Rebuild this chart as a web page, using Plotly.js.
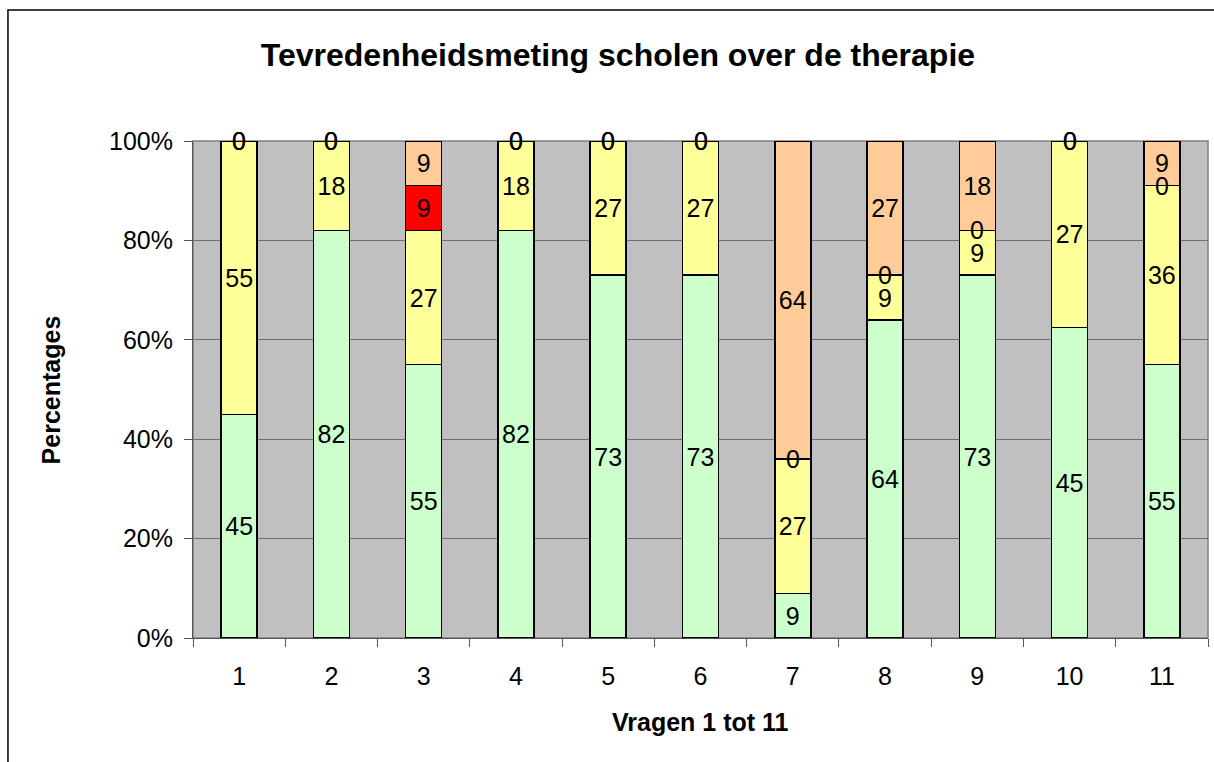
<!DOCTYPE html>
<html>
<head>
<meta charset="utf-8">
<script src="https://cdn.plot.ly/plotly-3.0.1.min.js"></script>
<style>
  body { margin: 0; background: #fff; }
  #chart { width: 1214px; height: 762px; }
</style>
</head>
<body>
<div id="chart"></div>
<script>
// Tevredenheid per vraag (aantallen in %, Excel 100%-gestapeld)
const vragen = ['1', '2', '3', '4', '5', '6', '7', '8', '9', '10', '11'];
const groen  = [45, 82, 55, 82, 73, 73,  9, 64, 73, 45, 55];
const geel   = [55, 18, 27, 18, 27, 27, 27,  9,  9, 27, 36];
const rood   = [ 0,  0,  9,  0,  0,  0,  0,  0,  0,  0,  0];
const oranje = [ 0,  0,  9,  0,  0,  0, 64, 27, 18,  0,  9];

const FONT = 'Liberation Sans, Arial, sans-serif';
const series = [
  { naam: 'groen',  y: groen,  kleur: '#CCFFCC' },
  { naam: 'geel',   y: geel,   kleur: '#FFFF99' },
  { naam: 'rood',   y: rood,   kleur: '#FF0000' },
  { naam: 'oranje', y: oranje, kleur: '#FFCC99' },
];

const traces = series.map(s => ({
  type: 'bar',
  name: s.naam,
  x: vragen,
  y: s.y,
  text: s.y.map(v => v === 0 ? '' : String(v)),
  texttemplate: '%{text}',
  textposition: 'inside',
  insidetextanchor: 'middle',
  textangle: 0,
  constraintext: 'none',
  textfont: { family: FONT, size: 25, color: '#000' },
  marker: { color: s.kleur, line: { color: '#000', width: 1.5 } },
  hoverinfo: 'skip',
}));

// Excel toont ook de 0-labels, op de grens van het (lege) segment
const totalen = vragen.map((_, i) => series.reduce((a, s) => a + s.y[i], 0));
const nulLabels = [];
series.forEach((s, k) => {
  s.y.forEach((v, i) => {
    if (v !== 0) return;
    let cum = 0;
    for (let j = 0; j <= k; j++) cum += series[j].y[i];
    nulLabels.push({
      x: i, y: cum / totalen[i] * 100,   // categorie-index
      xref: 'x', yref: 'y', text: '0', showarrow: false,
      font: { family: FONT, size: 25, color: '#000' },
    });
  });
});

const layout = {
  width: 1214,
  height: 762,
  margin: { l: 193, r: 6, t: 141, b: 124, pad: 0 },
  paper_bgcolor: '#fff',
  plot_bgcolor: '#C0C0C0',
  barmode: 'stack',
  barnorm: 'percent',
  bargap: 0.61,
  showlegend: false,
  title: {
    text: 'Tevredenheidsmeting scholen over de therapie',
    font: { family: FONT, size: 32, weight: 'bold', color: '#000' },
    xref: 'container', x: 0.509, xanchor: 'center',
    yref: 'container', y: 0.928, yanchor: 'middle',
  },
  xaxis: {
    type: 'category',
    range: [-0.5, vragen.length - 0.5],
    tickson: 'boundaries',
    ticks: 'outside', ticklen: 8, tickcolor: '#555', tickwidth: 1,
    showline: true, linecolor: '#555', linewidth: 1,
    showgrid: false,
    tickfont: { family: FONT, size: 25, color: '#000' },
    ticklabelstandoff: 16,
  },
  yaxis: {
    range: [0, 100],
    dtick: 20,
    ticksuffix: '%',
    ticks: 'outside', ticklen: 8, tickcolor: '#555', tickwidth: 1,
    showline: true, linecolor: '#555', linewidth: 1,
    showgrid: true, gridcolor: '#707070', gridwidth: 1,
    zeroline: false,
    tickfont: { family: FONT, size: 25, color: '#000' },
    ticklabelstandoff: 6,
  },
  annotations: nulLabels.concat([
    {
      text: '<b>Percentages</b>', textangle: -90,
      xref: 'paper', yref: 'paper', x: -0.14, y: 0.5,
      xanchor: 'center', yanchor: 'middle', showarrow: false,
      font: { family: FONT, size: 25, color: '#000' },
    },
    {
      text: '<b>Vragen 1 tot 11</b>',
      xref: 'paper', yref: 'paper', x: 0.5, y: -0.169,
      xanchor: 'center', yanchor: 'middle', showarrow: false,
      font: { family: FONT, size: 25, color: '#000' },
    },
  ]),
  shapes: [
    // rand van het plotgebied
    { type: 'rect', xref: 'paper', yref: 'paper', x0: 0, x1: 1, y0: 0, y1: 1,
      line: { color: '#808080', width: 1.5 }, layer: 'below' },
    // kader van de grafiek
    { type: 'rect', xref: 'paper', yref: 'paper', x0: -0.1823, x1: 1.03, y0: -0.3, y1: 1.2636,
      line: { color: '#000', width: 1.5 }, layer: 'above' },
  ],
};

Plotly.newPlot('chart', traces, layout, { staticPlot: true });
</script>
</body>
</html>
